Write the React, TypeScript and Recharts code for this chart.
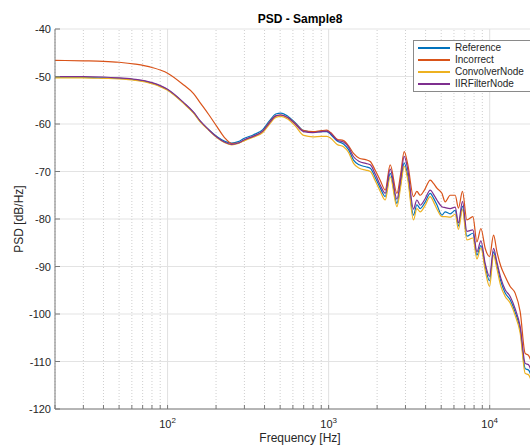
import { LineChart, Line, XAxis, YAxis, CartesianGrid, ReferenceLine } from "recharts";

const FREQ = [
  20, 30, 40, 50, 63, 80, 100, 126, 145, 160, 180, 203, 225, 250, 275, 300, 340, 390, 430, 470,
  505, 560, 620, 700, 800, 900, 975, 1030, 1130, 1237, 1330, 1428, 1550, 1700, 1813, 1950, 2100,
  2245, 2412, 2655, 2800, 2946, 3100, 3365, 3530, 3704, 3950, 4274, 4480, 4702, 5051, 5292, 5685,
  6105, 6399, 6777, 7217, 7866, 8330, 8820, 9380, 9980, 10570, 11090, 11740, 12480, 13400, 14390,
  15460, 16610, 17420, 18300,
];

const INCORRECT = [
  -46.6, -46.7, -46.8, -47.0, -47.4, -48.1, -49.3, -51.8, -53.6, -55.6, -58.0, -60.6, -62.8, -64.1,
  -64.0, -63.4, -62.6, -61.5, -59.6, -58.3, -58.1, -58.7, -59.9, -61.4, -61.6, -61.4, -61.3, -61.8,
  -63.2, -63.5, -64.6, -66.2, -67.2, -67.5, -67.9, -69.8, -72.0, -73.9, -68.6, -74.6, -70.5, -65.8,
  -68.5, -75.3, -74.2, -75.0, -73.8, -71.8, -72.5, -73.5, -74.6, -76.4, -75.0, -75.0, -77.7, -74.2,
  -80.2, -79.5, -84.8, -82.0, -86.2, -87.9, -83.4, -86.9, -90.0, -92.1, -94.2, -95.6, -99.5, -108.3,
  -108.7, -110.5,
];

const REFERENCE = [
  -50.2, -50.2, -50.3, -50.4, -50.7, -51.4, -52.8, -55.6, -57.6, -59.5, -61.2, -62.7, -63.6, -64.0,
  -63.7, -63.0, -62.3, -61.2, -59.3, -57.9, -57.7, -58.4, -59.7, -61.4, -61.7, -61.6, -61.6, -62.2,
  -63.6, -64.2, -65.4, -67.6, -68.6, -69.0, -69.3, -71.3, -73.6, -75.3, -70.4, -76.7, -72.5, -68.2,
  -71.0, -79.2, -77.0, -77.8, -76.6, -74.6, -75.6, -77.0, -79.2, -78.5, -78.9, -78.2, -81.5, -77.3,
  -83.6, -83.0, -87.6, -85.6, -90.0, -93.0, -86.9, -89.8, -93.2, -95.6, -97.0, -99.6, -103.3, -111.5,
  -111.8, -113.5,
];

const CONVOLVER = [
  -50.3, -50.3, -50.4, -50.5, -50.8, -51.5, -52.9, -55.7, -57.7, -59.6, -61.3, -62.9, -63.9, -64.4,
  -64.1, -63.5, -62.8, -61.8, -60.0, -58.6, -58.4, -59.0, -60.4, -62.4, -62.7, -62.6, -62.6, -63.0,
  -64.3, -64.8, -66.0, -68.3, -69.3, -69.7, -70.0, -72.0, -74.3, -76.0, -71.1, -77.4, -73.2, -68.9,
  -71.7, -80.2, -77.8, -78.5, -77.3, -75.3, -76.4, -77.9, -79.5, -79.5, -79.6, -79.0, -82.2, -78.0,
  -84.4, -84.0, -88.4, -86.1, -90.8, -94.2, -87.6, -90.5, -94.2, -96.3, -97.7, -100.3, -104.0, -112.5,
  -112.8, -114.5,
];

const IIR_FILTER = [
  -50.0, -50.0, -50.1, -50.3, -50.6, -51.3, -52.7, -55.5, -57.5, -59.4, -61.2, -62.8, -63.8, -64.3,
  -64.0, -63.3, -62.6, -61.5, -59.7, -58.3, -58.1, -58.7, -60.0, -61.6, -61.8, -61.6, -61.5, -62.0,
  -63.4, -63.8, -64.9, -66.9, -67.9, -68.3, -68.6, -70.6, -73.0, -74.6, -69.5, -75.8, -71.6, -66.8,
  -69.6, -77.9, -76.0, -77.1, -75.9, -73.9, -74.8, -76.0, -77.4, -77.6, -77.8, -77.5, -80.8, -76.3,
  -82.6, -82.3, -86.9, -84.6, -89.4, -92.1, -86.2, -89.1, -92.5, -94.9, -96.3, -98.9, -102.6, -110.4,
  -110.7, -112.5,
];

const Y_TICKS = [-120, -110, -100, -90, -80, -70, -60, -50, -40];
const DECADES = [100, 1000, 10000];
const MINOR = [
  20, 30, 40, 50, 60, 70, 80, 90, 200, 300, 400, 500, 600, 700, 800, 900, 2000, 3000, 4000, 5000,
  6000, 7000, 8000, 9000, 20000,
];
const ALL_X_TICKS = [...MINOR, ...DECADES].sort((a, b) => a - b);

const SERIES = [
  { key: "ref", name: "Reference", color: "#0072BD" },
  { key: "inc", name: "Incorrect", color: "#D95319" },
  { key: "conv", name: "ConvolverNode", color: "#EDB120" },
  { key: "iir", name: "IIRFilterNode", color: "#7E2F8E" },
];

const data = FREQ.map((f, i) => ({
  f,
  ref: REFERENCE[i],
  inc: INCORRECT[i],
  conv: CONVOLVER[i],
  iir: IIR_FILTER[i],
}));

const FONT = "'Liberation Sans', Arial, Helvetica, sans-serif";
const AXIS_COLOR = "#7a7a7a";

function BottomTick(props: any) {
  const { x, y, payload } = props;
  const v = payload.value;
  const major = DECADES.includes(v);
  return (
    <g>
      <line x1={x} y1={y} x2={x} y2={y - 4} stroke={AXIS_COLOR} />
      {major && (
        <text x={x} y={y + 19} textAnchor="middle" fontSize={11} fill="#262626" fontFamily={FONT}>
          <tspan>10</tspan>
          <tspan dy={-5} fontSize={8}>
            {Math.round(Math.log10(v))}
          </tspan>
        </text>
      )}
    </g>
  );
}

function TopTick(props: any) {
  const { x, y } = props;
  return <line x1={x} y1={y} x2={x} y2={y + 4} stroke={AXIS_COLOR} />;
}

function LeftTick(props: any) {
  const { x, y, payload } = props;
  return (
    <g>
      <line x1={x} y1={y} x2={x + 5} y2={y} stroke={AXIS_COLOR} />
      <text x={x - 4} y={y + 4} textAnchor="end" fontSize={11} fill="#262626" fontFamily={FONT}>
        {payload.value}
      </text>
    </g>
  );
}

function LegendBox() {
  return (
    <div
      style={{
        position: "absolute",
        left: 413,
        top: 40,
        border: "1px solid #8a8a8a",
        background: "#fff",
        width: 125,
        height: 52,
        boxSizing: "border-box",
        padding: "1px 0 0 4px",
        fontFamily: FONT,
        fontSize: 10,
        color: "#262626",
      }}
    >
      {SERIES.map((s) => (
        <div key={s.key} style={{ display: "flex", alignItems: "center", height: 12 }}>
          <span style={{ display: "inline-block", width: 32, height: 1.2, background: s.color }} />
          <span style={{ marginLeft: 5, lineHeight: "12px" }}>{s.name}</span>
        </div>
      ))}
    </div>
  );
}

export default function App() {
  return (
    <div
      style={{
        position: "fixed",
        left: 0,
        top: 0,
        width: 530,
        height: 445,
        overflow: "hidden",
        background: "#fff",
        fontFamily: FONT,
      }}
    >
      <div
        style={{
          position: "absolute",
          top: 12,
          left: 0,
          width: 600,
          textAlign: "center",
          fontSize: 12,
          fontWeight: "bold",
          color: "#000",
        }}
      >
        PSD - Sample8
      </div>
      <div
        style={{
          position: "absolute",
          top: 431,
          left: 0,
          width: 600,
          textAlign: "center",
          fontSize: 12,
          color: "#262626",
        }}
      >
        Frequency [Hz]
      </div>
      <div
        style={{
          position: "absolute",
          left: 19,
          top: 219,
          transform: "translate(-50%, -50%) rotate(-90deg)",
          fontSize: 12,
          color: "#262626",
          whiteSpace: "nowrap",
        }}
      >
        PSD [dB/Hz]
      </div>
      <LineChart width={545} height={445} data={data} margin={{ top: 29, right: 0, bottom: 0, left: 0 }}>
        <CartesianGrid vertical={false} stroke="#e3e3e3" />
        {MINOR.map((m) => (
          <ReferenceLine key={m} x={m} stroke="#cfcfcf" strokeDasharray="1 2" />
        ))}
        {DECADES.map((d) => (
          <ReferenceLine key={d} x={d} stroke="#e0e0e0" />
        ))}
        <XAxis
          dataKey="f"
          type="number"
          scale="log"
          domain={[20, 22050]}
          ticks={ALL_X_TICKS}
          tick={<BottomTick />}
          tickLine={false}
          tickSize={0}
          tickMargin={0}
          height={36}
          stroke={AXIS_COLOR}
          allowDataOverflow
          interval={0}
        />
        <XAxis
          xAxisId="top"
          orientation="top"
          dataKey="f"
          type="number"
          scale="log"
          domain={[20, 22050]}
          ticks={ALL_X_TICKS}
          tick={<TopTick />}
          tickLine={false}
          tickSize={0}
          tickMargin={0}
          height={0}
          stroke={AXIS_COLOR}
          allowDataOverflow
          interval={0}
        />
        <YAxis
          type="number"
          domain={[-120, -40]}
          ticks={Y_TICKS}
          tick={<LeftTick />}
          tickLine={false}
          tickSize={0}
          tickMargin={0}
          width={55}
          stroke={AXIS_COLOR}
          interval={0}
        />
        {SERIES.map((s) => (
          <Line
            key={s.key}
            dataKey={s.key}
            name={s.name}
            stroke={s.color}
            strokeWidth={1.2}
            dot={false}
            type="monotone"
            isAnimationActive={false}
          />
        ))}
      </LineChart>
      <LegendBox />
    </div>
  );
}
